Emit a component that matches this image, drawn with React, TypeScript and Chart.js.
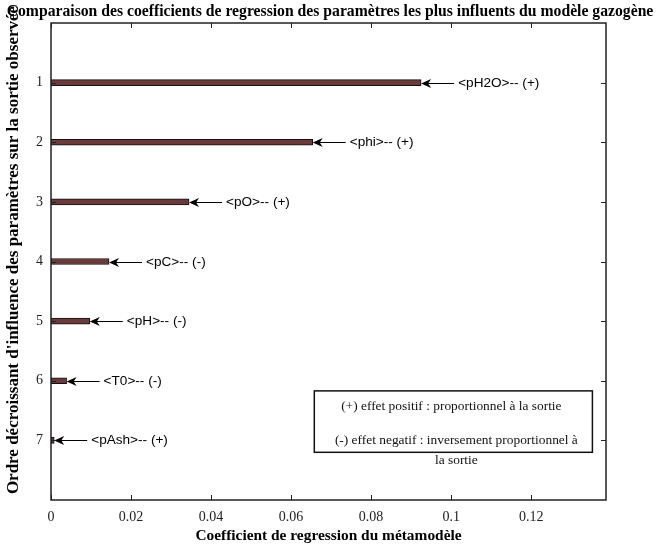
import { useEffect, useRef } from 'react';
import { Chart, registerables } from 'chart.js';

Chart.register(...registerables);

const ranks = [1, 2, 3, 4, 5, 6, 7];
const coefficients = [0.0925, 0.0654, 0.0345, 0.0145, 0.0097, 0.0039, 0.0008];
const paramLabels = [
  '<pH2O>-- (+)',
  '<phi>-- (+)',
  '<pO>-- (+)',
  '<pC>-- (-)',
  '<pH>-- (-)',
  '<T0>-- (-)',
  '<pAsh>-- (+)',
];
const xMin = 0;
const xMax = 0.1387;
const xStep = 0.02;
const yMin = 0;
const yMax = 8;
const legendLines = [
  '(+) effet positif : proportionnel à la sortie',
  '(-) effet negatif : inversement proportionnel à',
  'la sortie',
];
const chartTitle = 'Comparaison des coefficients de regression des paramètres les plus influents du modèle gazogène';
const xTitle = 'Coefficient de regression du métamodèle';
const yTitle = "Ordre décroissant d'influence des paramètres sur la sortie observée";

const SERIF = "'Liberation Serif', 'Times New Roman', serif";
const SANS = "'Liberation Sans', Arial, sans-serif";

const decorPlugin = {
  id: 'decor',
  afterDatasetsDraw(chart: any) {
    const ctx = chart.ctx;
    const xs = chart.scales.x;
    const ys = chart.scales.y;
    ctx.save();
    ctx.strokeStyle = '#000';
    ctx.fillStyle = '#000';
    ctx.lineWidth = 1;
    ctx.font = `13.6px ${SANS}`;
    ctx.textBaseline = 'middle';
    ctx.textAlign = 'left';
    ranks.forEach((r, i) => {
      const x0 = xs.getPixelForValue(coefficients[i]);
      const y = Math.round(ys.getPixelForValue(r)) + 0.5;
      ctx.beginPath();
      ctx.moveTo(x0 + 6, y);
      ctx.lineTo(x0 + 33, y);
      ctx.stroke();
      ctx.beginPath();
      ctx.moveTo(x0, y);
      ctx.lineTo(x0 + 10, y - 4.5);
      ctx.lineTo(x0 + 7, y);
      ctx.lineTo(x0 + 10, y + 4.5);
      ctx.closePath();
      ctx.fill();
      ctx.fillText(paramLabels[i], x0 + 37, y);
    });
    ctx.restore();
  },
  afterDraw(chart: any) {
    const ctx = chart.ctx;
    const a = chart.chartArea;
    const xs = chart.scales.x;
    const ys = chart.scales.y;
    ctx.save();
    ctx.strokeStyle = '#222';
    ctx.lineWidth = 1.5;
    ctx.strokeRect(a.left, a.top, a.right - a.left, a.bottom - a.top);
    ctx.lineWidth = 1;
    ctx.beginPath();
    xs.ticks.forEach((t: any) => {
      const x = Math.round(xs.getPixelForValue(t.value)) + 0.5;
      ctx.moveTo(x, a.bottom);
      ctx.lineTo(x, a.bottom - 5);
      ctx.moveTo(x, a.top);
      ctx.lineTo(x, a.top + 5);
    });
    ys.ticks.forEach((t: any) => {
      const y = Math.round(ys.getPixelForValue(t.value)) + 0.5;
      ctx.moveTo(a.left, y);
      ctx.lineTo(a.left + 5, y);
      ctx.moveTo(a.right, y);
      ctx.lineTo(a.right - 5, y);
    });
    ctx.stroke();

    // legend box
    const bx = xs.getPixelForValue(0.0658);
    const bx2 = xs.getPixelForValue(0.1353);
    const by = ys.getPixelForValue(6.17);
    const by2 = ys.getPixelForValue(7.2);
    ctx.fillStyle = '#fff';
    ctx.fillRect(bx, by, bx2 - bx, by2 - by);
    ctx.strokeStyle = '#111';
    ctx.lineWidth = 1.5;
    ctx.strokeRect(bx, by, bx2 - bx, by2 - by);
    ctx.fillStyle = '#111';
    ctx.font = `13.4px ${SERIF}`;
    ctx.textAlign = 'center';
    ctx.textBaseline = 'middle';
    ctx.fillText(legendLines[0], (bx + bx2) / 2 - 2, by + 16);
    ctx.fillText(legendLines[1], (bx + bx2) / 2 + 3, by + 50);
    ctx.fillText(legendLines[2], (bx + bx2) / 2 + 3, by + 70);

    // titles
    ctx.fillStyle = '#000';
    ctx.font = `bold 15.7px ${SERIF}`;
    ctx.textAlign = 'center';
    ctx.textBaseline = 'middle';
    ctx.fillText(chartTitle, 330, 12);
    ctx.font = `bold 15.4px ${SERIF}`;
    ctx.fillText(xTitle, (a.left + a.right) / 2, 536);
    ctx.save();
    ctx.translate(14, 250);
    ctx.rotate(-Math.PI / 2);
    ctx.font = `bold 17px ${SERIF}`;
    ctx.fillText(yTitle, 0, 0);
    ctx.restore();
    ctx.restore();
  },
};

export default function App() {
  const ref = useRef<HTMLCanvasElement>(null);
  useEffect(() => {
    if (!ref.current) return;
    const chart = new Chart(ref.current, {
      type: 'bar',
      data: {
        datasets: [
          {
            data: ranks.map((r, i) => ({ x: coefficients[i], y: r })),
            backgroundColor: '#6b3a3a',
            borderColor: '#111',
            borderWidth: 1,
            borderSkipped: false,
            barThickness: 6,
          },
        ],
      },
      options: {
        indexAxis: 'y',
        responsive: false,
        animation: false,
        devicePixelRatio: 1,
        layout: { padding: { top: 23, right: 55, bottom: 0, left: 0 } },
        plugins: {
          legend: { display: false },
          tooltip: { enabled: false },
          title: { display: false },
        },
        scales: {
          x: {
            type: 'linear',
            position: 'bottom',
            min: xMin,
            max: xMax,
            offset: false,
            grid: { display: false, drawTicks: false },
            border: { display: false },
            ticks: {
              stepSize: xStep,
              includeBounds: false,
              padding: 9,
              color: '#222',
              font: { family: SERIF, size: 14 },
              callback: (v: any) => String(Math.round(Number(v) * 100) / 100),
            },
            afterFit: (s: any) => {
              s.height = 46;
            },
          },
          y: {
            type: 'linear',
            position: 'left',
            reverse: true,
            min: yMin,
            max: yMax,
            offset: false,
            grid: { display: false, drawTicks: false },
            border: { display: false },
            ticks: {
              stepSize: 1,
              padding: 8,
              color: '#222',
              font: { family: SERIF, size: 14 },
            },
            afterBuildTicks: (s: any) => {
              s.ticks = s.ticks.filter((t: any) => t.value >= 1 && t.value <= 7);
            },
            afterFit: (s: any) => {
              s.width = 51;
            },
          },
        },
      },
      plugins: [decorPlugin],
    } as any);
    return () => chart.destroy();
  }, []);
  return (
    <div style={{ position: 'fixed', left: 0, top: 0, width: 661, height: 546, background: '#fff' }}>
      <canvas ref={ref} width={661} height={546} style={{ display: 'block' }} />
    </div>
  );
}
